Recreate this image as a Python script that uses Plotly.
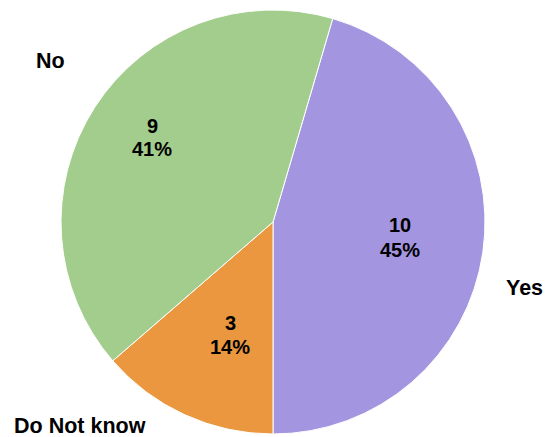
import plotly.graph_objects as go

categories = ["Yes", "Do Not know", "No"]
counts = [10, 3, 9]
colors = ["#A395E0", "#EA973F", "#A3CD8D"]

W, H = 549, 437
cx, cy, r = 273, 222, 212  # pixel centre / radius of pie

total = sum(counts)
start_deg = 180 - counts[0] / total * 360  # Yes slice ends at the bottom

FONT = "Liberation Sans, Arial, sans-serif"
FS_IN = 20
FS_OUT = 21.5

fig = go.Figure(go.Pie(
    labels=categories,
    values=counts,
    sort=False,
    direction="clockwise",
    rotation=start_deg,
    marker=dict(colors=colors, line=dict(color="white", width=1)),
    textinfo="none",
    hoverinfo="label+value+percent",
    domain=dict(x=[(cx - r) / W, (cx + r) / W],
                y=[(H - cy - r) / H, (H - cy + r) / H]),
    showlegend=False,
))

# label layout (pixel centres): inside value/percent block, outside category name
inner_pos = [(400, 237), (230, 334), (152, 137)]
outer_pos = [(524, 287), (80, 425), (50, 61)]
LINE_GAP = 24

def ann(x, y, text, size):
    return dict(
        x=x / W, y=1 - (y + 0.5) / H, xref="paper", yref="paper",
        text=f"<b>{text}</b>", showarrow=False,
        font=dict(family=FONT, size=size, color="black"),
        xanchor="center", yanchor="middle", align="center",
    )

annotations = []
for i, (cat, v) in enumerate(zip(categories, counts)):
    pct = round(v / total * 100)
    ix, iy = inner_pos[i]
    annotations.append(ann(ix, iy - LINE_GAP / 2, f"{v}", FS_IN))
    annotations.append(ann(ix, iy + LINE_GAP / 2, f"{pct}%", FS_IN))
    ox, oy = outer_pos[i]
    annotations.append(ann(ox, oy, cat, FS_OUT))

fig.update_layout(
    width=W, height=H,
    margin=dict(l=0, r=0, t=0, b=0),
    paper_bgcolor="white",
    annotations=annotations,
)

fig.write_html("out.html")
